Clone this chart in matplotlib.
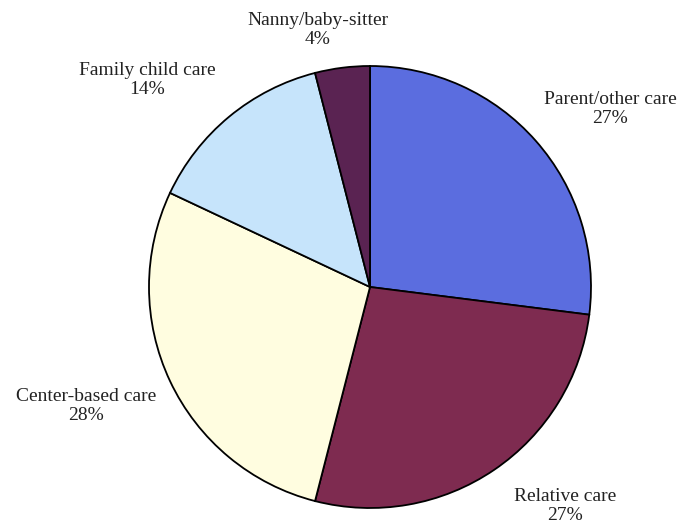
import matplotlib.pyplot as plt

labels = ["Parent/other care", "Relative care", "Center-based care",
          "Family child care", "Nanny/baby-sitter"]
shares = [27, 27, 28, 14, 4]
colors = ["#5b6ddf", "#7e2b50", "#fffde0", "#c6e4fb", "#5a2352"]

# label block centres in pixels from the top-left
label_pos = [(610, 109), (565, 506), (86, 406), (147, 80), (318, 30)]

W, H = 683, 525
fig = plt.figure(figsize=(W / 100, H / 100), dpi=100)
ax = fig.add_axes([0, 0, 1, 1])

ax.pie(shares, colors=colors, startangle=90, counterclock=False,
       center=(370, H - 287), radius=221,
       wedgeprops=dict(edgecolor="black", linewidth=1.3))

ax.set_xlim(0, W)
ax.set_ylim(0, H)
ax.set_aspect("equal")
ax.axis("off")

for lab, val, (x, y) in zip(labels, shares, label_pos):
    ax.text(x, H - y, f"{lab}\n{val}%", ha="center", va="center",
            fontsize=14, family="Liberation Serif", color="#222222",
            linespacing=1.2)

fig.savefig("out.png", dpi=100)
